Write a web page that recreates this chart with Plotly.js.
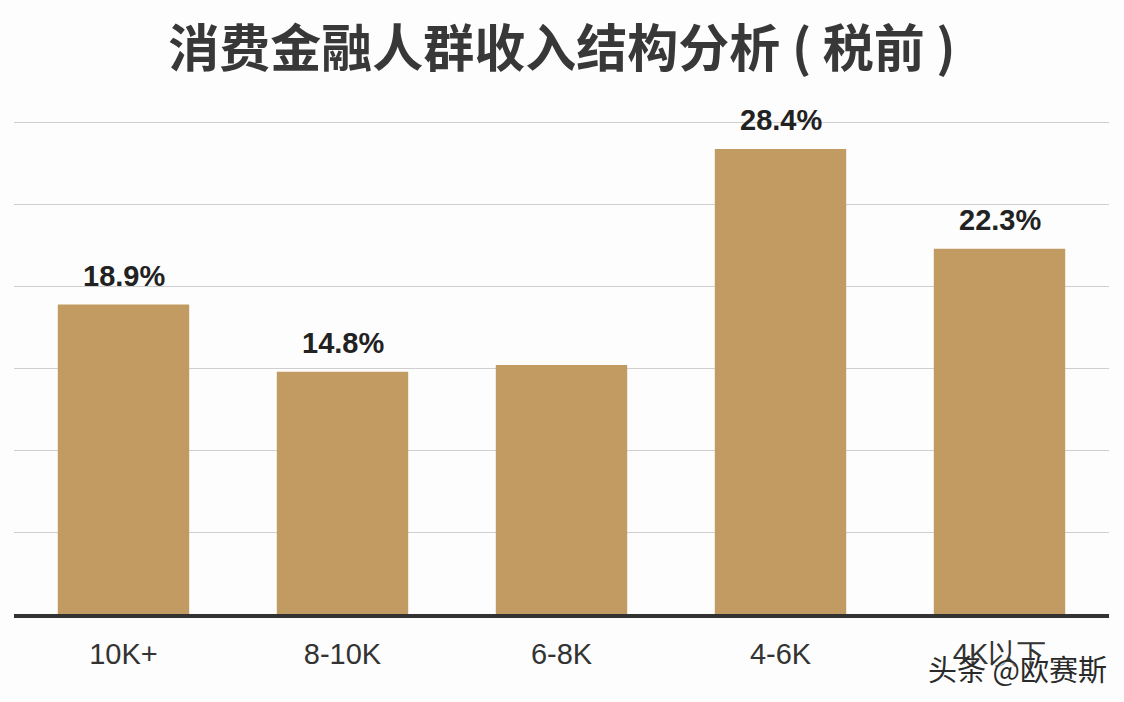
<!DOCTYPE html>
<html>
<head>
<meta charset="utf-8">
<script src="https://cdn.plot.ly/plotly-3.0.1.min.js"></script>
<style>html,body{margin:0;padding:0;background:#fdfdfd;}</style>
</head>
<body>
<div id="chart" style="width:1124px;height:702px;"></div>
<script>
const categories = ['10K+', '8-10K', '6-8K', '4-6K', '4K以下'];
const values = [18.9, 14.8, 15.2, 28.4, 22.3];
const valueLabels = ['18.9%', '14.8%', '', '28.4%', '22.3%'];
const titleText = '消费金融人群收入结构分析 ( 税前 )';
const watermark = '头条 @欧赛斯';

const annotations = categories.map((c, i) => ({
  x: c, y: values[i], xref: 'x', yref: 'y',
  text: valueLabels[i], showarrow: false,
  yanchor: 'bottom', yshift: 11,
  font: {family: 'Liberation Sans, Arial, sans-serif', size: 29, color: '#222222', weight: 'bold'}
})).filter(a => a.text !== '');

annotations.push({
  xref: 'paper', yref: 'paper', x: 1.0, y: -0.108,
  xanchor: 'right', yanchor: 'middle', showarrow: false,
  text: watermark,
  font: {family: 'Noto Sans CJK SC, sans-serif', size: 29, color: '#2a2a2a', shadow: '1px 1px 2px #ffffff'}
});

const data = [{
  type: 'bar',
  x: categories,
  y: values,
  marker: {color: '#C29B63'},
  width: 0.6,
  hoverinfo: 'skip'
}];

const layout = {
  width: 1124, height: 702,
  paper_bgcolor: '#fdfdfd', plot_bgcolor: '#fdfdfd',
  margin: {l: 14, r: 15, t: 117, b: 88},
  title: {
    text: '<b>' + titleText + '</b>',
    x: 0.5, xanchor: 'center', y: 0.93, yanchor: 'middle',
    font: {family: 'Noto Sans CJK SC, sans-serif', size: 51, color: '#383838'}
  },
  xaxis: {
    showline: true, linecolor: '#333333', linewidth: 4,
    ticks: '', ticklabelstandoff: 11,
    tickfont: {family: 'Liberation Sans, Arial, sans-serif', size: 29, color: '#333333'},
    showgrid: false, fixedrange: true
  },
  yaxis: {
    range: [0, 30.35], dtick: 5, tick0: 0,
    showgrid: true, gridcolor: '#cfcfcf', gridwidth: 1,
    zeroline: false, showticklabels: false, showline: false, fixedrange: true
  },
  annotations: annotations,
  showlegend: false,
  bargap: 0.4
};

Plotly.newPlot('chart', data, layout, {displayModeBar: false, staticPlot: true});
</script>
</body>
</html>
